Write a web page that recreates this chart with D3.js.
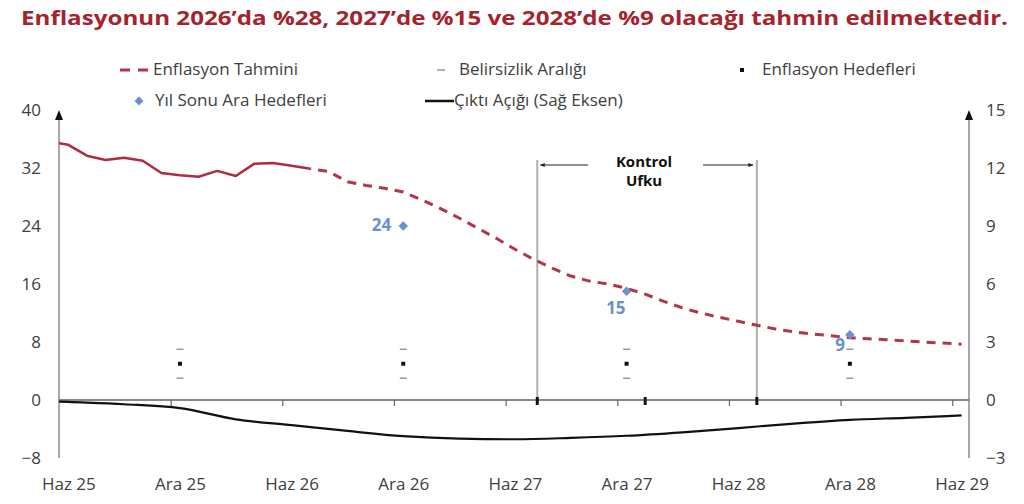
<!DOCTYPE html>
<html>
<head>
<meta charset="utf-8">
<script src="https://cdn.jsdelivr.net/npm/d3@7"></script>
<style>
  body { margin: 0; background: #fff; }
  svg { display: block; font-family: "Open Sans", sans-serif; }
</style>
</head>
<body>
<div id="chart"></div>
<script>
// months counted from Haz 25 (= 0)
const tickMonths = [0, 6, 12, 18, 24, 30, 36, 42, 48];
const tickLabels = ["Haz 25", "Ara 25", "Haz 26", "Ara 26", "Haz 27", "Ara 27", "Haz 28", "Ara 28", "Haz 29"];
const leftTicks = [-8, 0, 8, 16, 24, 32, 40];
const rightTicks = [-3, 0, 3, 6, 9, 12, 15];

const actualMonths = [-1, 0, 1, 2, 3, 4, 5, 6, 7, 8, 9, 10, 11, 12, 13];
const actualValues = [35.6, 35.2, 33.7, 33.1, 33.4, 33.0, 31.3, 31.0, 30.8, 31.6, 30.9, 32.6, 32.7, 32.3, 31.9];

const forecastMonths = [13, 14, 15, 16, 17, 18, 19, 20, 21, 22, 23, 24, 25, 26, 27, 28, 29, 30,
  31, 32, 33, 34, 35, 36, 37, 38, 39, 40, 41, 42, 43, 44, 45, 46, 47, 48];
const forecastValues = [31.9, 31.5, 30.1, 29.6, 29.2, 28.7, 27.6, 26.4, 25.1, 23.7, 22.3, 20.8, 19.4, 18.2,
  17.1, 16.4, 16.0, 15.4, 14.6, 13.6, 12.7, 12.0, 11.4, 10.85, 10.3, 9.8, 9.4, 9.1, 8.85, 8.6,
  8.45, 8.3, 8.15, 8.0, 7.85, 7.7];

const gapMonths = [-1, 0, 3, 6, 9, 12, 15, 18, 21, 24, 27, 30, 33, 36, 39, 42, 45, 48];
const gapValues = [-0.06, -0.1, -0.22, -0.42, -1.0, -1.3, -1.6, -1.87, -2.0, -2.03, -1.96, -1.85,
  -1.67, -1.45, -1.22, -1.03, -0.92, -0.8];

const targetMonths = [6, 18, 30, 42];
const targetValues = [5, 5, 5, 5];
const bandLow = [3, 3, 3, 3];
const bandHigh = [7, 7, 7, 7];

const interimMonths = [18, 30, 42];
const interimValues = [24, 15, 9];

const controlHorizon = [25.2, 37];
const markTicks = [25.2, 31, 37];

const w = 1024, h = 504;
const red = "#b3354c", blue = "#6b91c9", txt = "#404040";

const svg = d3.select("#chart").append("svg")
  .attr("width", w).attr("height", h);

const x = d3.scaleLinear().domain([-0.5, 48.4]).range([59, 969]);
const yL = d3.scaleLinear().domain([-8, 40]).range([458, 110]);
const yR = d3.scaleLinear().domain([-3, 15]).range([458, 110]);

svg.append("clipPath").attr("id", "plot")
  .append("rect").attr("x", x(-0.5)).attr("y", 100).attr("width", x(48.4) - x(-0.5)).attr("height", 370);

// title
svg.append("text")
  .attr("x", 21).attr("y", 20)
  .attr("dominant-baseline", "middle")
  .attr("font-size", 20).attr("font-weight", 700)
  .attr("fill", "#a6232d")
  .attr("textLength", 987).attr("lengthAdjust", "spacingAndGlyphs")
  .text("Enflasyonun 2026’da %28, 2027’de %15 ve 2028’de %9 olacağı tahmin edilmektedir.");

// legend
const leg = svg.append("g").attr("font-size", 17).attr("fill", txt);
leg.append("line").attr("x1", 120).attr("x2", 148).attr("y1", 70).attr("y2", 70)
  .attr("stroke", red).attr("stroke-width", 3).attr("stroke-dasharray", "10,8");
leg.append("text").attr("x", 153).attr("y", 70).attr("dominant-baseline", "middle").text("Enflasyon Tahmini");
leg.append("line").attr("x1", 437).attr("x2", 445).attr("y1", 70).attr("y2", 70)
  .attr("stroke", "#999").attr("stroke-width", 1.5);
leg.append("text").attr("x", 459).attr("y", 70).attr("dominant-baseline", "middle").text("Belirsizlik Aralığı");
leg.append("rect").attr("x", 740).attr("y", 68).attr("width", 4).attr("height", 4).attr("fill", "#111");
leg.append("text").attr("x", 762).attr("y", 70).attr("dominant-baseline", "middle").text("Enflasyon Hedefleri");
leg.append("path").attr("d", d3.symbol(d3.symbolSquare, 40)())
  .attr("transform", "translate(139,101) rotate(45)").attr("fill", blue);
leg.append("text").attr("x", 155).attr("y", 101).attr("dominant-baseline", "middle").text("Yıl Sonu Ara Hedefleri");
leg.append("line").attr("x1", 425).attr("x2", 454).attr("y1", 101).attr("y2", 101)
  .attr("stroke", "#111").attr("stroke-width", 2.5);
leg.append("text").attr("x", 454).attr("y", 101).attr("dominant-baseline", "middle").text("Çıktı Açığı (Sağ Eksen)");

// control horizon
const ch = svg.append("g");
ch.selectAll("line.ch").data(controlHorizon).enter().append("line")
  .attr("class", "ch")
  .attr("x1", d => x(d)).attr("x2", d => x(d))
  .attr("y1", 160).attr("y2", yL(0))
  .attr("stroke", "#b0b0b0").attr("stroke-width", 2);
const cx = (x(controlHorizon[0]) + x(controlHorizon[1])) / 2 - 3;
svg.append("defs").append("marker").attr("id", "ah")
  .attr("viewBox", "0 0 10 10").attr("refX", 9).attr("refY", 5)
  .attr("markerWidth", 5).attr("markerHeight", 5).attr("orient", "auto")
  .append("path").attr("d", "M0,1L10,5L0,9Z").attr("fill", "#222");
ch.append("line").attr("x1", cx - 56).attr("x2", x(controlHorizon[0]) + 3)
  .attr("y1", 165).attr("y2", 165).attr("stroke", "#222").attr("stroke-width", 1)
  .attr("marker-end", "url(#ah)");
ch.append("line").attr("x1", cx + 59).attr("x2", x(controlHorizon[1]) - 4)
  .attr("y1", 165).attr("y2", 165).attr("stroke", "#222").attr("stroke-width", 1)
  .attr("marker-end", "url(#ah)");
ch.append("text").attr("x", cx).attr("y", 163).attr("text-anchor", "middle")
  .attr("dominant-baseline", "middle").attr("font-size", 15).attr("font-weight", 700)
  .attr("fill", "#111").text("Kontrol");
ch.append("text").attr("x", cx).attr("y", 182).attr("text-anchor", "middle")
  .attr("dominant-baseline", "middle").attr("font-size", 15).attr("font-weight", 700)
  .attr("fill", "#111").text("Ufku");

// zero line and x ticks
svg.append("line").attr("x1", x(-0.5)).attr("x2", x(48.4))
  .attr("y1", yL(0)).attr("y2", yL(0)).attr("stroke", "#8a8a8a").attr("stroke-width", 2);
const xt = svg.append("g").attr("transform", `translate(0,${yL(0)})`)
  .call(d3.axisBottom(x).tickValues(tickMonths.slice(1).map(m => m - 0.5)).tickSize(6).tickFormat(""));
xt.select(".domain").remove();
xt.selectAll("line").attr("stroke", "#666").attr("stroke-width", 1.2);
svg.selectAll("rect.mt").data(markTicks).enter().append("rect")
  .attr("class", "mt")
  .attr("x", d => x(d) - 1.5).attr("y", yL(0) - 3).attr("width", 3).attr("height", 8)
  .attr("fill", "#111");

// x labels
const xl = svg.append("g").attr("transform", "translate(0,485)")
  .call(d3.axisBottom(x).tickValues(tickMonths).tickSize(0).tickPadding(0)
    .tickFormat((d, i) => tickLabels[i]));
xl.select(".domain").remove();
xl.selectAll("text").attr("font-size", 17).attr("fill", txt)
  .attr("font-family", "Open Sans, sans-serif").attr("dy", null).attr("dominant-baseline", "middle");

// y axes
const la = svg.append("g").attr("transform", "translate(41,0)")
  .call(d3.axisLeft(yL).tickValues(leftTicks).tickSize(0).tickPadding(0));
la.select(".domain").remove();
la.selectAll("text").attr("font-size", 17).attr("fill", txt).attr("font-family", "Open Sans, sans-serif");
const ra = svg.append("g").attr("transform", "translate(986,0)")
  .call(d3.axisRight(yR).tickValues(rightTicks).tickSize(0).tickPadding(0));
ra.select(".domain").remove();
ra.selectAll("text").attr("font-size", 17).attr("fill", txt).attr("font-family", "Open Sans, sans-serif");

[x(-0.5), x(48.4)].forEach(ax => {
  svg.append("line").attr("x1", ax).attr("x2", ax).attr("y1", yL(-8)).attr("y2", 118)
    .attr("stroke", "#777").attr("stroke-width", 1.3);
  svg.append("path").attr("d", `M${ax},110L${ax - 4},120L${ax + 4},120Z`).attr("fill", "#111");
});

// output gap (right axis)
const gap = gapMonths.map((m, i) => [m, gapValues[i]]);
svg.append("path").datum(gap)
  .attr("clip-path", "url(#plot)")
  .attr("fill", "none").attr("stroke", "#111").attr("stroke-width", 2.2)
  .attr("d", d3.line().x(d => x(d[0])).y(d => yR(d[1])).curve(d3.curveMonotoneX));

// uncertainty band and targets
const tg = svg.append("g");
targetMonths.forEach((m, i) => {
  [bandLow[i], bandHigh[i]].forEach(v => {
    tg.append("line").attr("x1", x(m) - 3.5).attr("x2", x(m) + 3.5)
      .attr("y1", yL(v)).attr("y2", yL(v)).attr("stroke", "#999").attr("stroke-width", 1.5);
  });
  tg.append("rect").attr("x", x(m) - 2).attr("y", yL(targetValues[i]) - 2)
    .attr("width", 4).attr("height", 4).attr("fill", "#111");
});

// inflation lines
const line = d3.line().x(d => x(d[0])).y(d => yL(d[1]));
svg.append("path").datum(actualMonths.map((m, i) => [m, actualValues[i]]))
  .attr("clip-path", "url(#plot)")
  .attr("fill", "none").attr("stroke", "#ad2b43").attr("stroke-width", 2.5)
  .attr("stroke-linejoin", "round")
  .attr("d", line);
svg.append("path").datum(forecastMonths.map((m, i) => [m, forecastValues[i]]))
  .attr("fill", "none").attr("stroke", red).attr("stroke-width", 3)
  .attr("stroke-dasharray", "9,7").attr("stroke-dashoffset", -8)
  .attr("d", line);

// year-end interim targets
const labelOffsets = [[-12, 0], [-1, 18], [-5, 12]];
interimMonths.forEach((m, i) => {
  const px = x(m), py = yL(interimValues[i]);
  svg.append("path").attr("d", d3.symbol(d3.symbolSquare, 45)())
    .attr("transform", `translate(${px},${py}) rotate(45)`).attr("fill", blue);
  svg.append("text").attr("x", px + labelOffsets[i][0]).attr("y", py + labelOffsets[i][1])
    .attr("text-anchor", "end").attr("dominant-baseline", "middle")
    .attr("font-size", 17).attr("font-weight", 700).attr("fill", blue)
    .text(interimValues[i]);
});
</script>
</body>
</html>
